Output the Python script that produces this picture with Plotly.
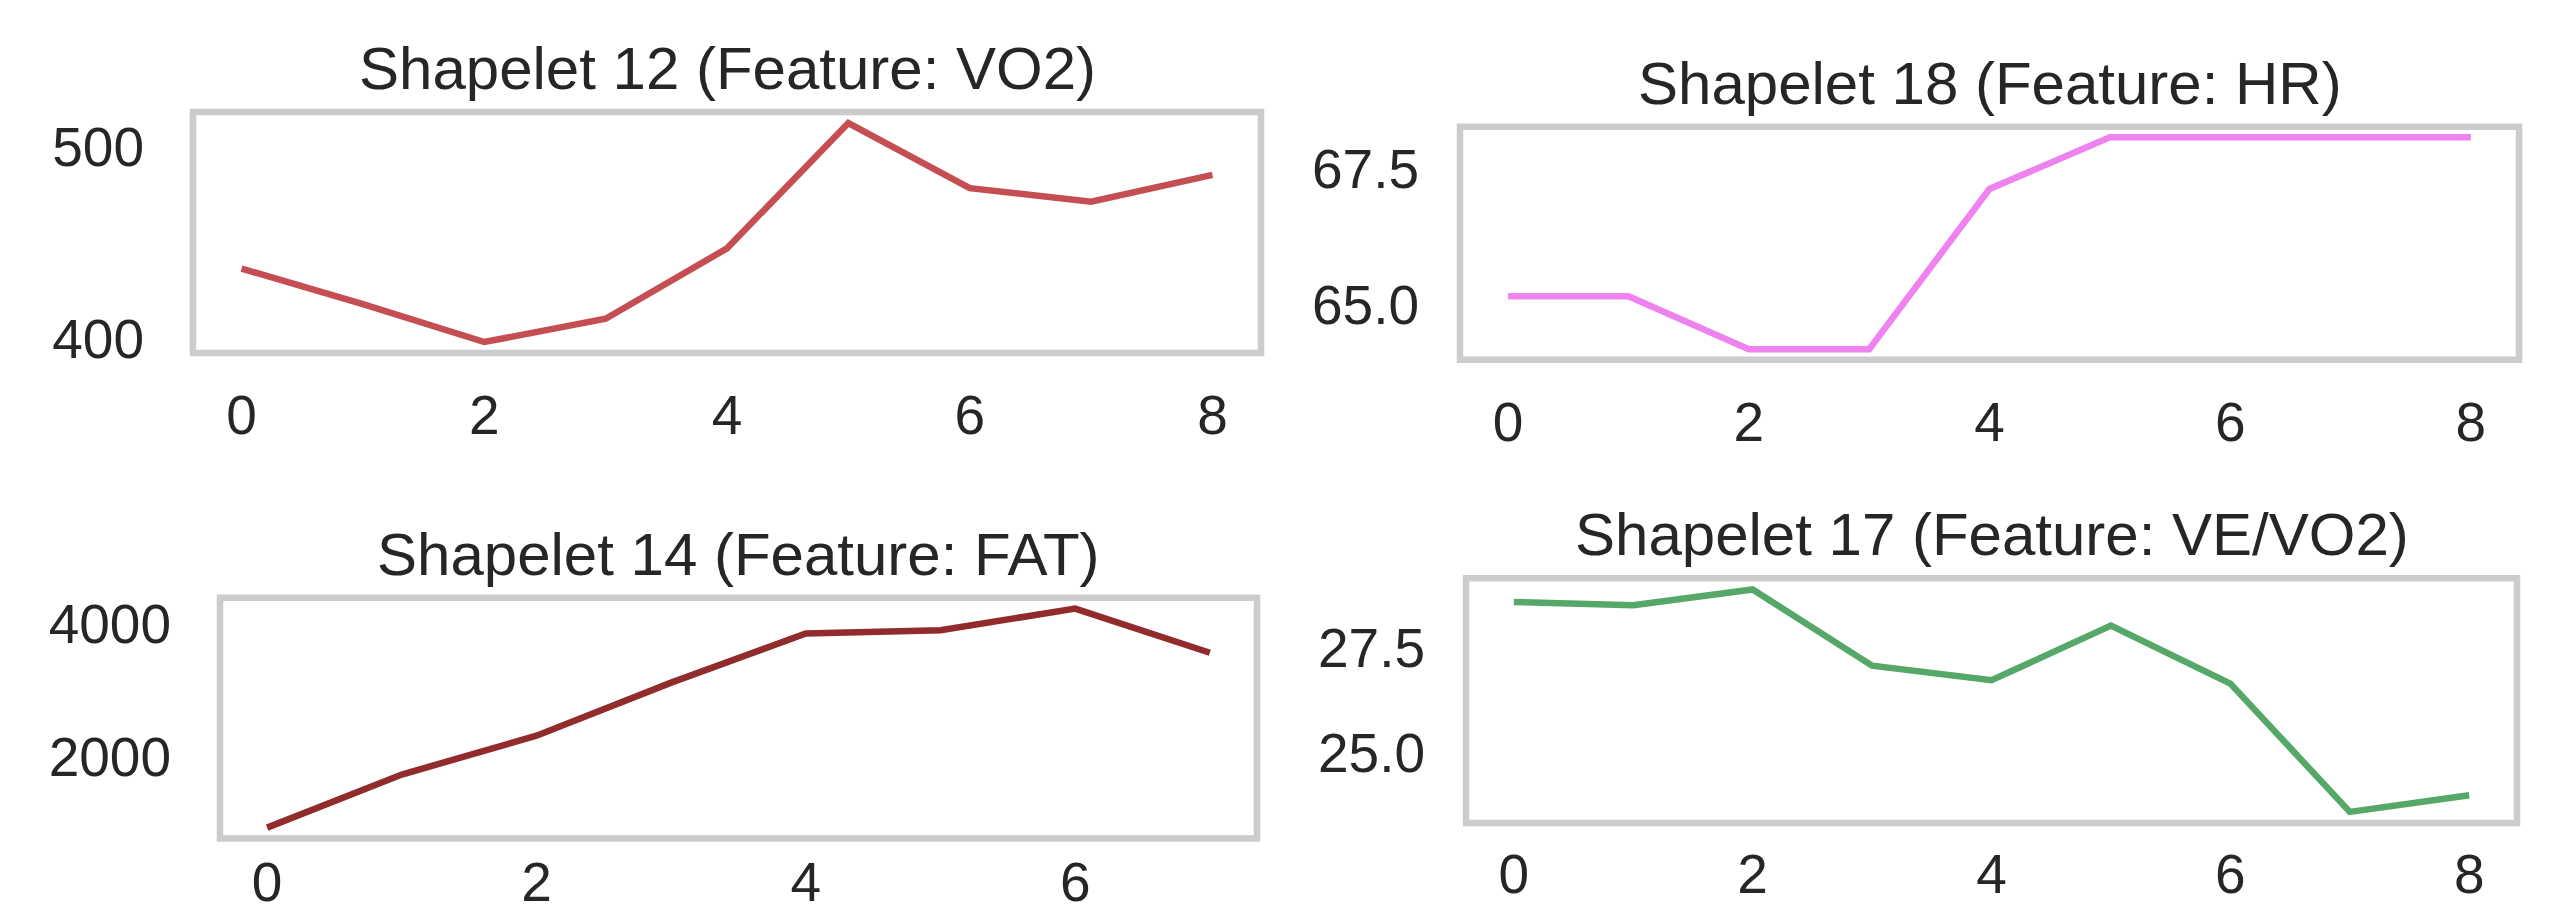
import plotly.graph_objects as go

# ---- data ----
vo2_x = [0, 1, 2, 3, 4, 5, 6, 7, 8]
vo2_y = [436.5, 418.0, 398.3, 410.4, 447.0, 512.2, 478.3, 471.3, 485.2]

hr_x = [0, 1, 2, 3, 4, 5, 6, 7, 8]
hr_y = [65.15, 65.15, 64.18, 64.18, 67.12, 68.07, 68.07, 68.07, 68.07]

fat_x = [0, 1, 2, 3, 4, 5, 6, 7]
fat_y = [925, 1725, 2310, 3110, 3850, 3900, 4225, 3560]

vevo2_x = [0, 1, 2, 3, 4, 5, 6, 7, 8]
vevo2_y = [28.61, 28.53, 28.91, 27.08, 26.73, 28.04, 26.65, 23.57, 23.97]

titles = ["Shapelet 12 (Feature: VO2)", "Shapelet 18 (Feature: HR)",
          "Shapelet 14 (Feature: FAT)", "Shapelet 17 (Feature: VE/VO2)"]
colors = ["#C44E52", "#EE82EE", "#922B2B", "#55A868"]
yticks = [[400, 500], [65.0, 67.5], [2000, 4000], [25.0, 27.5]]
ytickfmt = ["d", ".1f", "d", ".1f"]
xticks = [[0, 2, 4, 6, 8], [0, 2, 4, 6, 8], [0, 2, 4, 6], [0, 2, 4, 6, 8]]

# figure size (the page body adds an 8px margin around it)
W, H = 2549, 905
# panel frames in figure pixels: (left, right, top, bottom)
frames = [(185, 1253, 102, 350), (1452, 2511, 117, 357),
          (212, 1249, 602, 850), (1458, 2509, 582, 834)]
# tick label distances from the frame (bottom row kept inside the page)
xstand = [25, 25, 6, 14]
ystand = [48, 40, 48, 40]

series = [(vo2_x, vo2_y), (hr_x, hr_y), (fat_x, fat_y), (vevo2_x, vevo2_y)]

FONT = "Liberation Sans, Arial, sans-serif"
TXT = "#262626"

fig = go.Figure()
layout = dict(
    width=W, height=H, margin=dict(l=0, r=0, t=0, b=0),
    paper_bgcolor="white", plot_bgcolor="white", showlegend=False,
    font=dict(family=FONT, color=TXT),
)
annotations = []
shapes = []


def pad(lo, hi, f=0.05):
    d = (hi - lo) * f
    return [lo - d, hi + d]


for i, ((xs, ys), title, col, (l, r, t, b)) in enumerate(zip(series, titles, colors, frames)):
    n = i + 1
    xa = "x" if n == 1 else f"x{n}"
    ya = "y" if n == 1 else f"y{n}"
    fig.add_trace(go.Scatter(x=xs, y=ys, mode="lines", line=dict(color=col, width=6.5),
                             xaxis=xa, yaxis=ya, hoverinfo="skip"))
    xkey = "xaxis" if n == 1 else f"xaxis{n}"
    ykey = "yaxis" if n == 1 else f"yaxis{n}"
    layout[xkey] = dict(
        domain=[l / W, r / W], anchor=ya, range=pad(min(xs), max(xs)),
        tickvals=xticks[i], showgrid=False, zeroline=False, showline=False,
        ticks="", ticklabelstandoff=xstand[i],
        tickfont=dict(size=55, color=TXT, family=FONT),
    )
    layout[ykey] = dict(
        domain=[1 - b / H, 1 - t / H], anchor=xa, range=pad(min(ys), max(ys)),
        tickvals=yticks[i], tickformat=ytickfmt[i], showgrid=False, zeroline=False,
        showline=False, ticks="", ticklabelstandoff=ystand[i],
        tickfont=dict(size=55, color=TXT, family=FONT),
    )
    annotations.append(dict(
        text=title, xref=f"{xa} domain", yref=f"{ya} domain", x=0.5, y=1,
        xanchor="center", yanchor="bottom", yshift=8, showarrow=False,
        font=dict(size=60, color=TXT, family=FONT),
    ))
    shapes.append(dict(
        type="rect", xref=f"{xa} domain", yref=f"{ya} domain", x0=0, x1=1, y0=0, y1=1,
        line=dict(color="#CCCCCC", width=6.5), layer="above",
    ))

layout["annotations"] = annotations
layout["shapes"] = shapes
fig.update_layout(**layout)
fig.write_html("out.html")
